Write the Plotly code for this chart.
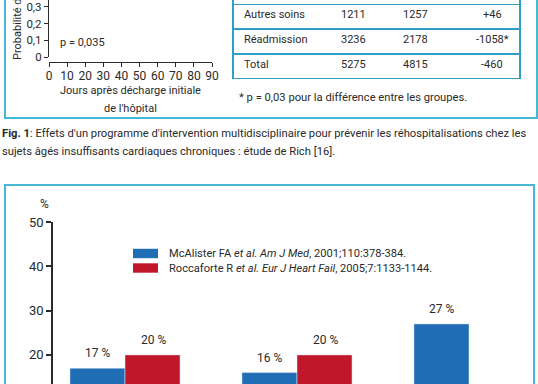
import plotly.graph_objects as go

W, H = 538, 384


def px(x):
    return x / W


def py(y):
    return 1 - y / H


# ---------------- data ----------------
# bottom bar chart
categories = ["Mortalité", "Hospitalisations toutes causes", "Hospitalisations pour IC"]
mcalister = [17, 16, 27]
roccaforte = [20, 20, None]
mcalister_labels = ["17 %", "16 %", "27 %"]
roccaforte_labels = ["20 %", "20 %", ""]
bar_yticks = [10, 20, 30, 40, 50]
legend_names = [
    "McAlister FA <i>et al. Am J Med</i>, 2001;110:378-384.",
    "Roccaforte R <i>et al. Eur J Heart Fail</i>, 2005;7:1133-1144.",
]

# top-left curve axes (Fig. 1)
top_xticks = [0, 10, 20, 30, 40, 50, 60, 70, 80, 90]
top_yticks = [0, 0.1, 0.2, 0.3]
top_yticktext = ["0", "0,1", "0,2", "0,3"]
top_xtitle = ["Jours après décharge initiale", "de l'hôpital"]
top_ytitle = "Probabilité de réhospitalisation"
p_value_text = "p = 0,035"

# top-right table (Fig. 1)
table_rows = ["Autres soins", "Réadmission", "Total"]
table_control = ["1211", "3236", "5275"]
table_intervention = ["1257", "2178", "4815"]
table_diff = ["+46", "-1058*", "-460"]
table_note = "* p = 0,03 pour la différence entre les groupes."

caption_lines = [
    "<b>Fig. 1</b>: Effets d'un programme d'intervention multidisciplinaire pour prévenir les réhospitalisations chez les",
    "sujets âgés insuffisants cardiaques chroniques : étude de Rich [16].",
]

# ---------------- style ----------------
BLUE = "#1f6db4"
RED = "#c1172a"
FRAME = "#45b7d7"
TABLE_LINE = "#2f9fc6"
TXT = "#2a2a2a"
FONT = "Roboto"

fig = go.Figure()

fig.add_trace(go.Bar(x=categories, y=mcalister, marker_color=BLUE, name=legend_names[0],
                     showlegend=False, xaxis="x", yaxis="y"))
fig.add_trace(go.Bar(x=categories, y=roccaforte, marker_color=RED, name=legend_names[1],
                     showlegend=False, xaxis="x", yaxis="y"))
# empty traces for the top curve axes (the curves lie above the visible crop)
fig.add_trace(go.Scatter(x=[], y=[], xaxis="x2", yaxis="y2", showlegend=False))
fig.add_trace(go.Scatter(x=[], y=[], xaxis="x4", yaxis="y2", showlegend=False))

# bar chart axes
x_left_px, x_right_px = 53, 530
cat_center0, cat_step = 125, 172
fig.update_layout(
    xaxis=dict(domain=[px(x_left_px), px(x_right_px)],
               range=[(x_left_px - cat_center0) / cat_step, (x_right_px - cat_center0) / cat_step],
               showticklabels=False, showline=False, showgrid=False, zeroline=False,
               anchor="y", fixedrange=True, automargin=False),
    yaxis=dict(domain=[0, py(222)], range=[50 - (384 - 222) / 4.43, 50],
               tickvals=bar_yticks, ticks="outside", ticklen=5, tickwidth=1.5, tickcolor=TXT,
               showline=True, linecolor=TXT, linewidth=1.5, showgrid=False, zeroline=False,
               tickfont=dict(size=13, color=TXT, family=FONT), anchor="x", fixedrange=True,
               automargin=False, ticklabeloverflow="allow"),
    barmode="group", bargap=0.36, bargroupgap=0,
)

# top curve axes (x2 draws line + ticks, x4 carries the tick labels)
fig.update_layout(
    xaxis2=dict(domain=[px(49), px(212)], range=[0, 90], anchor="free", position=py(62),
                tickvals=top_xticks, ticks="outside", ticklen=4, tickwidth=1.2, tickcolor=TXT,
                showline=True, linecolor=TXT, linewidth=1.2, showgrid=False, zeroline=False,
                showticklabels=False, fixedrange=True, automargin=False),
    xaxis4=dict(domain=[px(49), px(212)], range=[0, 90], anchor="free", position=py(67),
                overlaying="x2", tickvals=top_xticks, ticks="", showline=False, showgrid=False,
                zeroline=False, tickfont=dict(size=12, color=TXT, family=FONT),
                fixedrange=True, automargin=False, ticklabeloverflow="allow"),
    yaxis2=dict(domain=[py(57), 1], range=[0, 57 / 166.7], anchor="free", position=px(48),
                tickvals=top_yticks, ticktext=top_yticktext, ticks="outside", ticklen=4,
                tickwidth=1.2, tickcolor=TXT, showline=True, linecolor=TXT, linewidth=1.2,
                showgrid=False, zeroline=False,
                tickfont=dict(size=11.5, color=TXT, family=FONT), fixedrange=True,
                automargin=False, ticklabeloverflow="allow"),
)

# table axes (invisible helper axes)
fig.update_layout(
    xaxis3=dict(domain=[px(233), px(520)], range=[233, 520], visible=False, anchor="y3",
                fixedrange=True, automargin=False),
    yaxis3=dict(domain=[py(79), py(4)], range=[2.5, -0.5], visible=False, anchor="x3",
                fixedrange=True, automargin=False),
)

annotations = []
shapes = []

# bar value labels
for i, c in enumerate(categories):
    for vals, labs, xs in ((mcalister, mcalister_labels, -28), (roccaforte, roccaforte_labels, 28)):
        if vals[i] is None:
            continue
        annotations.append(dict(x=c, y=vals[i], xref="x", yref="y", text=labs[i], showarrow=False,
                                xshift=xs, yshift=15, yanchor="middle",
                                font=dict(size=12, color=TXT, family=FONT)))

# "%" unit label
annotations.append(dict(x=px(38), y=py(204), xref="paper", yref="paper", text="%", showarrow=False,
                        font=dict(size=12, color=TXT, family=FONT)))

# manual legend
for k, (col, yc) in enumerate(((BLUE, 253.5), (RED, 268))):
    shapes.append(dict(type="rect", xref="paper", yref="paper", x0=px(133), x1=px(158),
                       y0=py(yc - 4.7), y1=py(yc + 4.7), fillcolor=col, line=dict(width=0)))
    annotations.append(dict(x=px(167), y=py(yc), xref="paper", yref="paper", text=legend_names[k],
                            showarrow=False, xanchor="left", yanchor="middle",
                            font=dict(size=11.1, color=TXT, family=FONT)))

# top curve texts
annotations.append(dict(x=px(58), y=py(42), xref="paper", yref="paper", text=p_value_text,
                        showarrow=False, xanchor="left", yanchor="middle",
                        font=dict(size=11, color=TXT, family=FONT)))
annotations.append(dict(x=px(17), y=py(62), xref="paper", yref="paper",
                        text=top_ytitle, textangle=-90,
                        showarrow=False, xanchor="center", yanchor="bottom",
                        font=dict(size=11, color=TXT, family=FONT)))
for k, yc in enumerate((90, 108)):
    annotations.append(dict(x=px(130.5), y=py(yc), xref="paper", yref="paper", text=top_xtitle[k],
                            showarrow=False, xanchor="center", yanchor="middle",
                            font=dict(size=11, color=TXT, family=FONT)))

# table cells
col_x = [242, 353, 415, 492]
for r, name in enumerate(table_rows):
    cells = [name, table_control[r], table_intervention[r], table_diff[r]]
    for j, txt in enumerate(cells):
        annotations.append(dict(x=col_x[j], y=r, xref="x3", yref="y3", text=txt, showarrow=False,
                                xanchor="left" if j == 0 else "center", yanchor="middle", yshift=2,
                                font=dict(size=11, color=TXT, family=FONT)))
for yl in (-0.5, 0.5, 1.5, 2.5):
    shapes.append(dict(type="line", xref="x3 domain", yref="y3", x0=0, x1=1, y0=yl, y1=yl,
                       line=dict(color=TABLE_LINE, width=2)))
for xl in (0, 1):
    shapes.append(dict(type="line", xref="x3 domain", yref="paper", x0=xl, x1=xl, y0=py(79), y1=1,
                       line=dict(color=TABLE_LINE, width=2)))

annotations.append(dict(x=px(237), y=py(98), xref="paper", yref="paper", text=table_note,
                        showarrow=False, xanchor="left", yanchor="middle",
                        font=dict(size=11.2, color=TXT, family=FONT)))

# caption
for k, yc in enumerate((134, 152)):
    annotations.append(dict(x=px(0), y=py(yc), xref="paper", yref="paper", text=caption_lines[k],
                            showarrow=False, xanchor="left", yanchor="middle", align="left",
                            font=dict(size=11.2, color=TXT, family=FONT)))

# frames
shapes.append(dict(type="path", xref="paper", yref="paper",
                   path=f"M {px(5)} 1 L {px(5)} {py(118)} L {px(537)} {py(118)} L {px(537)} 1",
                   line=dict(color=FRAME, width=2)))
shapes.append(dict(type="path", xref="paper", yref="paper",
                   path=f"M {px(5)} 0 L {px(5)} {py(185)} L {px(534)} {py(185)} L {px(534)} 0",
                   line=dict(color=FRAME, width=2)))

fig.update_layout(
    width=W, height=H, margin=dict(l=0, r=0, t=0, b=0, autoexpand=False),
    paper_bgcolor="white", plot_bgcolor="white",
    annotations=annotations, shapes=shapes,
    font=dict(family=FONT, color=TXT),
)

fig.write_html("out.html", config={"displayModeBar": False},
               post_script="document.body.style.margin='0';document.body.style.overflow='hidden';")
